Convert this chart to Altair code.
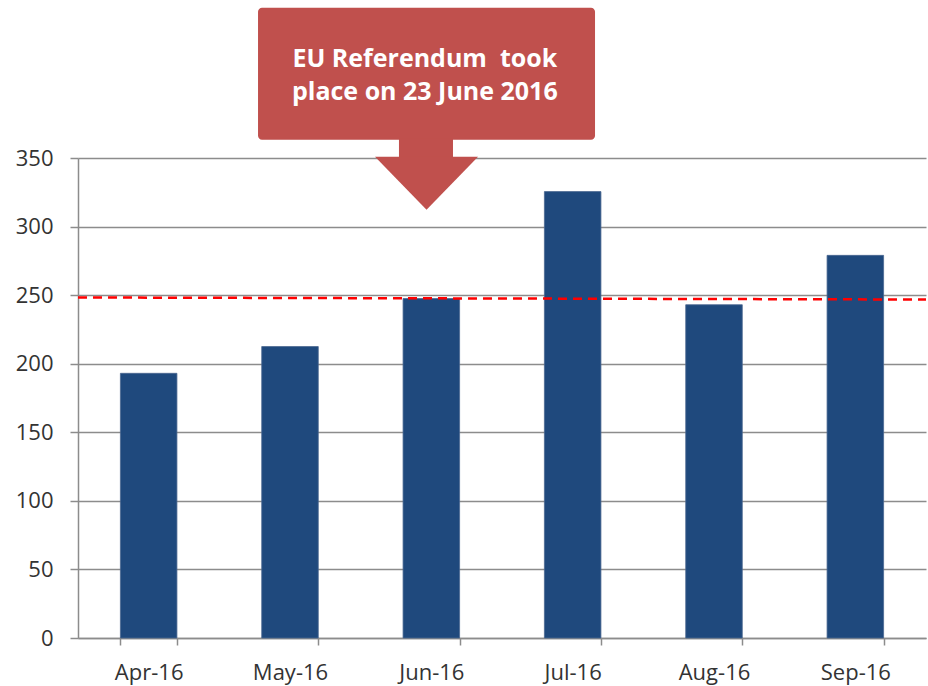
import altair as alt
import pandas as pd

# ---- data ----
months = ["Apr-16", "May-16", "Jun-16", "Jul-16", "Aug-16", "Sep-16"]
values = [193, 212.5, 247.5, 325.5, 243, 279]

# dashed reference line (value at left edge, value at right edge)
ref_x = [0, 1]
ref_y = [248.3, 246.8]

callout_lines = ["EU Referendum\u00a0 took", "place on 23 June 2016"]

# callout geometry, expressed in the chart's own scales
# (x: 0..1 across the plot width, y: chart value units)
box_x, box_x2, box_y, box_y2 = 0.2123, 0.6097, 459.6, 363.3
shaft_x, shaft_x2, shaft_y2 = 0.3785, 0.4422, 350.0
head_x, head_y = 0.411, 331.6
text_x = [0.409, 0.409]
text_y = [416.6, 392.5]

BAR = "#1F497D"
RED = "#C0504D"
GRID = "#8C8C8C"
LABEL = "#333333"
FONT = "Open Sans"

yscale = alt.Scale(domain=[0, 350], nice=False, zero=True)
xq = alt.Scale(domain=[0, 1], nice=False, zero=False)

df = pd.DataFrame({"month": months, "value": values})

bars = alt.Chart(df).mark_bar(color=BAR, stroke="#4A6790", strokeWidth=0.8).encode(
    x=alt.X("month:N", sort=months,
            scale=alt.Scale(paddingInner=0.6, paddingOuter=0.3),
            axis=alt.Axis(title=None, labelAngle=0, tickBand="extent",
                          tickSize=7, tickColor=GRID, tickWidth=1.5,
                          domainColor=GRID, domainWidth=1.5,
                          labelFont=FONT, labelFontSize=22, labelColor=LABEL,
                          labelPadding=17, grid=False)),
    y=alt.Y("value:Q", scale=yscale,
            axis=alt.Axis(title=None, values=[0, 50, 100, 150, 200, 250, 300, 350],
                          grid=True, gridColor=GRID, gridWidth=1.5,
                          tickSize=8, tickColor=GRID, tickWidth=1.5,
                          domainColor=GRID, domainWidth=1.5,
                          labelFont=FONT, labelFontSize=22, labelColor=LABEL,
                          labelPadding=17)),
)

ref_df = pd.DataFrame({"x": ref_x, "value": ref_y})
ref_line = alt.Chart(ref_df).mark_line(color="#FF0000", strokeWidth=2.5,
                                       strokeDash=[9, 6]).encode(
    x=alt.X("x:Q", scale=xq, axis=None),
    y=alt.Y("value:Q", scale=yscale, axis=None),
)

box_df = pd.DataFrame({"x": [box_x], "x2": [box_x2], "value": [box_y], "value2": [box_y2]})
box = alt.Chart(box_df).mark_rect(color=RED, cornerRadius=4).encode(
    x=alt.X("x:Q", scale=xq, axis=None), x2="x2:Q",
    y=alt.Y("value:Q", scale=yscale, axis=None), y2="value2:Q",
)

shaft_df = pd.DataFrame({"x": [shaft_x], "x2": [shaft_x2], "value": [box_y2 + 1], "value2": [shaft_y2]})
shaft = alt.Chart(shaft_df).mark_rect(color=RED).encode(
    x=alt.X("x:Q", scale=xq, axis=None), x2="x2:Q",
    y=alt.Y("value:Q", scale=yscale, axis=None), y2="value2:Q",
)

head_df = pd.DataFrame({"x": [head_x], "value": [head_y]})
head = alt.Chart(head_df).mark_point(
    shape="M-1,-0.5147L1,-0.5147L0,0.5147Z", size=10609,
    filled=True, color=RED, opacity=1, strokeWidth=0,
).encode(
    x=alt.X("x:Q", scale=xq, axis=None),
    y=alt.Y("value:Q", scale=yscale, axis=None),
)

text_df = pd.DataFrame({"x": text_x, "value": text_y, "t": callout_lines})
text = alt.Chart(text_df).mark_text(
    font=FONT, fontSize=25, fontWeight="bold", color="white",
    align="center", baseline="alphabetic",
).encode(
    x=alt.X("x:Q", scale=xq, axis=None),
    y=alt.Y("value:Q", scale=yscale, axis=None),
    text="t:N",
)

annot = alt.layer(ref_line, box, shaft, head, text)

chart = alt.layer(bars, annot).resolve_scale(
    x="independent", y="independent"
).properties(
    width=848, height=480,
    padding={"left": 78, "top": 158, "right": 2, "bottom": 48},
    autosize=alt.AutoSizeParams(type="none"),
    background="white",
).configure_view(stroke=None)

chart.save("out.html", embed_options={"renderer": "svg", "actions": False})
